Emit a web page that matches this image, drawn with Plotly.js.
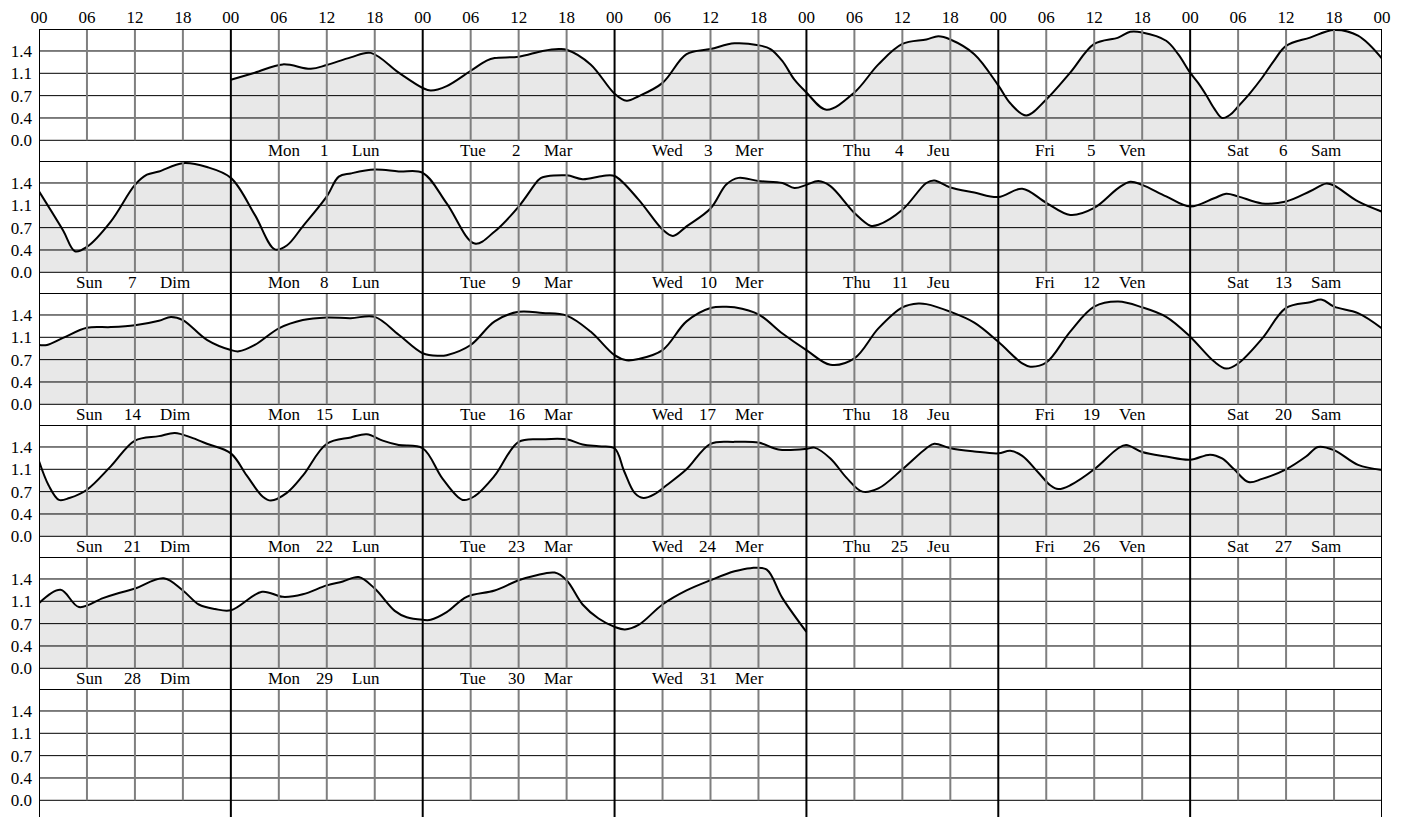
<!DOCTYPE html>
<html>
<head>
<meta charset="utf-8">
<script src="https://cdn.plot.ly/plotly-3.0.1.min.js"></script>
<style>html,body{margin:0;padding:0;overflow:hidden;background:#fff}</style>
</head>
<body>
<div id="chart" style="width:1409px;height:825px"></div>
<script>
// ---- tick labels ----
const hourLabels = ['00', '06', '12', '18'];
const levelTicks = [0, 0.35, 0.7, 1.05, 1.4];
const levelLabels = ['0.0', '0.4', '0.7', '1.1', '1.4'];
const dayNamesEN = ['Sun', 'Mon', 'Tue', 'Wed', 'Thu', 'Fri', 'Sat'];
const dayNamesFR = ['Dim', 'Lun', 'Mar', 'Mer', 'Jeu', 'Ven', 'Sam'];
const firstDayColumn = 1;   // day 1 is a Monday
const daysInMonth = 31;

// ---- tide heights: hours from the Sunday 00:00 starting each week row, and level (m) ----
const week1Hours  = [24,27,30.5,34,36,39,41.5,45, 48,49,51,54,56,57,60,63,65,66,69, 72,73.5,75,78,81,84,87,90,91.5,93,94.5, 96,98.5,102,105,108,111,112.5,114,117, 120,121.5,123.5,126,129,132,135,136.5,138,141,142.5, 144,145,146,147,148,149,150,151.5,153,154.5,156,159,162,165,168];
const week1Levels = [0.95,1.06,1.19,1.12,1.18,1.30,1.37,1.06, 0.82,0.78,0.85,1.09,1.25,1.29,1.31,1.40,1.43,1.42,1.19, 0.73,0.62,0.69,0.90,1.35,1.43,1.52,1.49,1.43,1.24,0.95, 0.75,0.48,0.75,1.19,1.51,1.58,1.63,1.58,1.35, 0.86,0.58,0.39,0.64,1.06,1.51,1.61,1.70,1.69,1.56,1.35, 1.06,0.90,0.71,0.50,0.35,0.40,0.53,0.74,0.98,1.25,1.48,1.61,1.73,1.64,1.28];

const week2Hours  = [0,3,4.5,6,9,12,13.5,15,18,21, 24,27,29.5,31,33,36,37.5,39,42,45, 48,51,54.5,57,60,62.5,63,66,68,70.5, 72,75,78,79.3,81,84,86,87.5,90,93,94.5, 96,97.5,99,102,104,105,108,111,112,114,117, 120,123,126,129,132,135,136.5,138,141, 144,147,148.5,150,153,156,159,161,162,165,168];
const week2Levels = [1.27,0.66,0.33,0.40,0.80,1.37,1.53,1.58,1.71,1.65, 1.48,0.90,0.36,0.42,0.72,1.19,1.50,1.55,1.61,1.58, 1.56,1.08,0.45,0.64,1.03,1.45,1.49,1.52,1.46,1.51, 1.51,1.14,0.67,0.57,0.72,1.00,1.38,1.48,1.43,1.40,1.32, 1.37,1.43,1.35,0.93,0.73,0.745,0.98,1.40,1.44,1.33,1.25, 1.18,1.31,1.09,0.90,1.01,1.32,1.42,1.37,1.19, 1.03,1.16,1.23,1.19,1.08,1.11,1.27,1.39,1.36,1.11,0.95];

const week3Hours  = [0,1,3,6,9,12,15,16.5,18,21, 24,25,27,30,33,36,39,42,45, 48,50,51,54,57,60,63,66,69, 72,73.5,75,78,81,84,86,87,90,93, 96,99,102,105,108,110,111,114,117, 120,123,124,126,129,132,135,138,141, 144,147,148.5,150,153,156,159,160.5,162,165,168];
const week3Levels = [0.93,0.93,1.04,1.20,1.21,1.24,1.31,1.37,1.32,1.01, 0.85,0.83,0.93,1.19,1.32,1.36,1.35,1.37,1.09, 0.80,0.76,0.77,0.93,1.30,1.45,1.43,1.39,1.14, 0.77,0.69,0.71,0.85,1.30,1.51,1.53,1.52,1.41,1.11, 0.85,0.62,0.72,1.19,1.52,1.58,1.57,1.45,1.28, 0.98,0.64,0.59,0.655,1.14,1.53,1.61,1.52,1.37, 1.06,0.67,0.56,0.64,1.03,1.51,1.60,1.64,1.53,1.43,1.19];

const week4Hours  = [0,1.2,2.5,3.8,6,9,12,15,17,19,21, 24,26,28,29,31,33,36,39,41,43,45, 48,50.5,53,54.5,57,60,63,66,68,70, 72,73.2,74.5,75.6,77,78.5,81,84,87,90,92.5, 96,97,99,101,103,105,108,111,112,114,117, 120,121.5,123,125,126.5,127.5,129,132,135,136,138,141, 144,146.5,148,149.5,151.3,153,156,158.5,160,162,165,168];
const week4Levels = [1.18,0.80,0.57,0.60,0.73,1.10,1.50,1.57,1.62,1.55,1.45, 1.30,0.95,0.62,0.56,0.68,0.95,1.45,1.55,1.60,1.50,1.43, 1.38,0.90,0.57,0.63,0.95,1.48,1.52,1.52,1.44,1.41, 1.38,1.02,0.68,0.60,0.66,0.80,1.05,1.45,1.48,1.47,1.36, 1.37,1.39,1.22,0.92,0.70,0.75,1.05,1.38,1.45,1.38,1.33, 1.30,1.34,1.26,1.00,0.80,0.74,0.80,1.05,1.38,1.43,1.32,1.25, 1.20,1.28,1.22,1.05,0.85,0.90,1.05,1.25,1.40,1.35,1.12,1.04];

const week5Hours  = [0,2.7,5,8,10,12,15.6,18,20,22, 24,27.9,30.5,33,36,38,40,42,44.5,46, 48,49,51,53.5,57,60,62,64.5,66,68,70, 72,73.3,75,78,81,84,87,89,91,93,96];
const week5Levels = [1.02,1.23,0.96,1.10,1.18,1.25,1.41,1.22,1.00,0.93, 0.91,1.20,1.12,1.16,1.30,1.36,1.43,1.25,0.90,0.80, 0.76,0.76,0.88,1.12,1.22,1.38,1.45,1.50,1.38,1.00,0.78, 0.65,0.61,0.68,1.00,1.22,1.38,1.52,1.57,1.55,1.10,0.57];

const weekHours  = [week1Hours, week2Hours, week3Hours, week4Hours, week5Hours];
const weekLevels = [week1Levels, week2Levels, week3Levels, week4Levels, week5Levels];

// ---- geometry of each row axis ----
const ROWS = 6;
const YMIN = -0.3245, YMAX = 1.7445;
const FONT = 'Liberation Serif, Times New Roman, serif';
const FSIZE = 17;

function yName(r) { return r === 0 ? 'y' : 'y' + (r + 1); }
function yLayoutName(r) { return r === 0 ? 'yaxis' : 'yaxis' + (r + 1); }

const traces = weekHours.map((hrs, r) => ({
  type: 'scatter', mode: 'lines',
  x: hrs, y: weekLevels[r],
  xaxis: 'x', yaxis: yName(r),
  line: {color: '#000', width: 2, shape: 'spline', smoothing: 1},
  fill: 'tozeroy', fillcolor: '#e8e8e8',
  hoverinfo: 'skip'
}));

const xTickVals = [], xTickText = [];
for (let d = 0; d <= 7; d++) {
  for (let k = 0; k < hourLabels.length; k++) {
    const h = d * 24 + k * 6;
    if (h > 168) break;
    xTickVals.push(h); xTickText.push(hourLabels[k]);
  }
}

const layout = {
  width: 1409, height: 825,
  margin: {l: 39, r: 27, t: 29, b: 4, pad: 0},
  paper_bgcolor: '#fff', plot_bgcolor: '#fff',
  showlegend: false,
  font: {family: FONT, size: FSIZE, color: '#000'},
  xaxis: {
    range: [0, 168], anchor: 'y', side: 'top',
    tickmode: 'array', tickvals: xTickVals, ticktext: xTickText,
    ticks: '', showgrid: false, zeroline: false, showline: false,
    ticklabelstandoff: 2,
    tickfont: {family: FONT, size: FSIZE, color: '#000'}, fixedrange: true
  },
  shapes: [], annotations: []
};

for (let r = 0; r < ROWS; r++) {
  layout[yLayoutName(r)] = {
    domain: [1 - (r + 1) / ROWS, 1 - r / ROWS],
    range: [YMIN, YMAX], anchor: 'x',
    tickmode: 'array', tickvals: levelTicks, ticktext: levelLabels,
    ticks: '', showgrid: false, zeroline: false, showline: false,
    ticklabelstandoff: 6,
    tickfont: {family: FONT, size: FSIZE, color: '#000'}, fixedrange: true
  };
  const yr = yName(r);
  levelTicks.forEach(v => layout.shapes.push({type: 'line', layer: 'above', xref: 'x', yref: yr,
    x0: 0, x1: 168, y0: v, y1: v, line: {color: '#000', width: 1}}));
  for (let h = 6; h < 168; h += 6) {
    if (h % 24 === 0) continue;
    layout.shapes.push({type: 'line', layer: 'above', xref: 'x', yref: yr,
      x0: h, x1: h, y0: 0, y1: YMAX, line: {color: '#7f7f7f', width: 2}});
  }
  layout.shapes.push({type: 'line', layer: 'above', xref: 'x', yref: yr,
    x0: 0, x1: 168, y0: YMAX, y1: YMAX, line: {color: '#000', width: 2}});
  for (let d = 0; d <= 7; d++) {
    layout.shapes.push({type: 'line', layer: 'above', xref: 'x', yref: yr,
      x0: d * 24, x1: d * 24, y0: YMIN, y1: YMAX, line: {color: '#000', width: 2}});
  }
}
layout.shapes.push({type: 'line', layer: 'above', xref: 'x', yref: yName(ROWS - 1),
  x0: 0, x1: 168, y0: YMIN, y1: YMIN, line: {color: '#000', width: 2}});

for (let n = 1; n <= daysInMonth; n++) {
  const idx = n - 1 + firstDayColumn;
  const r = Math.floor(idx / 7), c = idx % 7;
  const yr = yName(r);
  const base = c * 24;
  const common = {xref: 'x', yref: yr, y: -0.165, yanchor: 'middle', showarrow: false,
    font: {family: FONT, size: FSIZE, color: '#000'}, borderpad: 0};
  layout.annotations.push(Object.assign({}, common, {x: base + 4.5, xanchor: 'left', text: dayNamesEN[c]}));
  layout.annotations.push(Object.assign({}, common, {x: base + 11.7, xanchor: 'center', text: String(n)}));
  layout.annotations.push(Object.assign({}, common, {x: base + 15, xanchor: 'left', text: dayNamesFR[c]}));
}

Plotly.newPlot('chart', traces, layout, {staticPlot: true, displayModeBar: false});
</script>
</body>
</html>
